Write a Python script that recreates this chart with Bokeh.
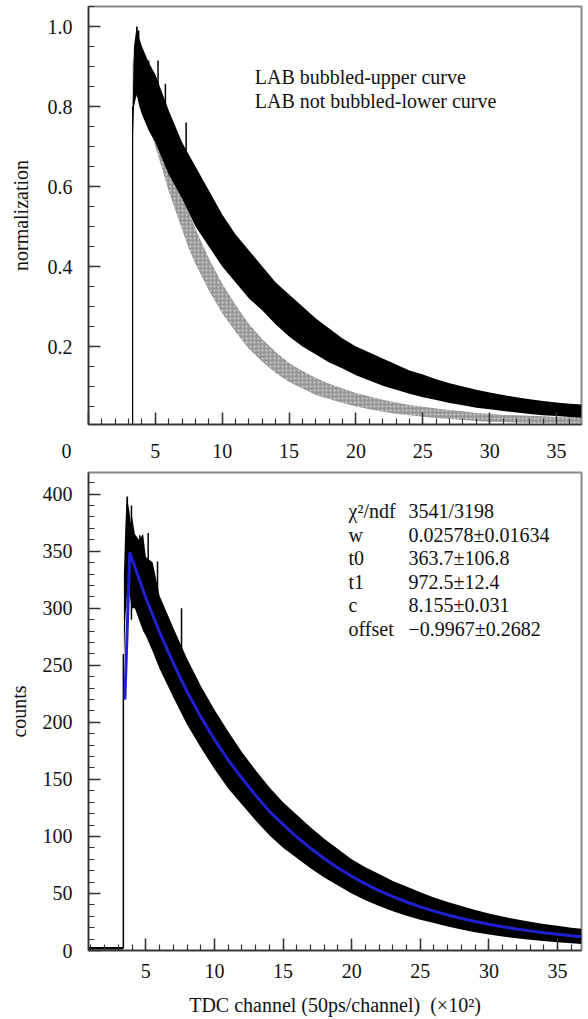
from bokeh.plotting import figure
from bokeh.models import Range1d, FixedTicker, Label, PrintfTickFormatter, CustomJSTickFormatter
from bokeh.layouts import column
from bokeh.embed import file_html
from bokeh.resources import INLINE

FONT = "Liberation Serif"

# ---------------- data: top panel (normalized) ----------------
top_xmajor = [0, 5, 10, 15, 20, 25, 30, 35]
top_xminor = list(range(1, 37))
top_ymajor = [0.2, 0.4, 0.6, 0.8, 1.0]
top_yminor = [0.05, 0.10, 0.15, 0.25, 0.30, 0.35, 0.45, 0.50, 0.55, 0.65, 0.70, 0.75,
              0.85, 0.90, 0.95, 1.05]

# LAB bubbled (upper curve) - band envelope
up_x = [3.3, 3.4, 3.6, 3.8, 4, 4.5, 5, 6, 7, 8, 9, 10, 11, 12, 13, 14, 15, 16, 17, 18, 19,
        20, 21, 22, 23, 24, 25, 26, 27, 28, 29, 30, 31, 32, 33, 34, 35, 36, 36.86]
up_lo = [0.70, 0.80, 0.83, 0.80, 0.78, 0.74, 0.71, 0.63, 0.57, 0.50, 0.45, 0.40, 0.36, 0.32,
         0.29, 0.255, 0.225, 0.20, 0.18, 0.16, 0.145, 0.128, 0.115, 0.102, 0.092, 0.082,
         0.073, 0.066, 0.059, 0.053, 0.047, 0.043, 0.039, 0.035, 0.031, 0.028, 0.026, 0.024, 0.022]
up_hi = [0.80, 0.95, 1.0, 0.97, 0.95, 0.91, 0.88, 0.79, 0.71, 0.65, 0.59, 0.53, 0.48, 0.44,
         0.40, 0.36, 0.33, 0.30, 0.27, 0.245, 0.22, 0.20, 0.185, 0.17, 0.155, 0.14, 0.13,
         0.118, 0.108, 0.10, 0.092, 0.085, 0.079, 0.073, 0.068, 0.064, 0.060, 0.057, 0.055]
up_spike_x = [3.62, 3.75, 4.5, 5.2, 5.75, 7.3]
up_spike_lo = [0.85, 0.85, 0.80, 0.78, 0.72, 0.62]
up_spike_hi = [1.0, 0.99, 0.915, 0.915, 0.857, 0.76]
top_rise_x = [3.3, 3.3]
top_rise_y = [0.005, 0.80]

# LAB not bubbled (lower curve)
lo_x = [3.3, 3.5, 3.7, 4, 4.5, 5, 5.5, 6, 6.5, 7, 7.5, 8, 9, 10, 11, 12, 13, 14, 15, 16, 17,
        18, 19, 20, 21, 22, 23, 24, 25, 26, 27, 28, 29, 30, 31, 32, 33, 34, 35, 36, 36.86]
lo_lo = [0.79, 0.82, 0.83, 0.81, 0.76, 0.70, 0.645, 0.588, 0.54, 0.492, 0.445, 0.406, 0.34,
         0.283, 0.236, 0.194, 0.162, 0.134, 0.111, 0.095, 0.079, 0.069, 0.059, 0.050, 0.043,
         0.037, 0.032, 0.028, 0.0245, 0.021, 0.019, 0.016, 0.014, 0.012, 0.011, 0.010, 0.009,
         0.0085, 0.008, 0.007, 0.007]
lo_hi = [0.91, 0.94, 0.95, 0.93, 0.88, 0.82, 0.755, 0.692, 0.64, 0.588, 0.535, 0.494, 0.42,
         0.357, 0.304, 0.256, 0.218, 0.186, 0.159, 0.139, 0.121, 0.107, 0.095, 0.084, 0.075,
         0.067, 0.060, 0.054, 0.0495, 0.045, 0.041, 0.038, 0.034, 0.032, 0.029, 0.028, 0.027,
         0.0255, 0.024, 0.023, 0.023]

# ---------------- data: bottom panel (counts) ----------------
bot_xmajor = [5, 10, 15, 20, 25, 30, 35]
bot_xminor = list(range(1, 37))
bot_ymajor = [0, 50, 100, 150, 200, 250, 300, 350, 400]
bot_yminor = [v for v in range(10, 420, 10) if v % 50 != 0]

bd_x = [3.4, 3.5, 3.6, 3.7, 3.8, 3.9, 4.0, 4.2, 4.5, 4.8, 5, 5.5, 6, 7, 8, 9, 10, 11, 12, 13,
        14, 15, 16, 17, 18, 19, 20, 21, 22, 23, 24, 25, 26, 27, 28, 29, 30, 31, 32, 33, 34,
        35, 36, 36.75]
bd_lo = [250, 290, 310, 320, 315, 305, 300, 300, 290, 280, 276, 262, 247, 222, 198, 178, 159,
         142, 128, 114, 101, 90, 81, 72, 64, 57, 50, 44, 39, 34.5, 30.5, 27, 24, 21, 18.5,
         16, 14, 12.3, 10.8, 9.5, 8.3, 7.3, 6.4, 5.7]
bd_hi = [330, 370, 398, 392, 385, 375, 380, 365, 360, 365, 345, 340, 311, 283, 256, 232, 211,
         192, 174, 158, 143, 130, 119, 108, 98, 89, 80, 73, 67, 61, 56, 51, 46.5, 42.5, 39,
         35.5, 32.5, 29.8, 27.3, 25.2, 23.3, 21.6, 20, 19]
bd_spike_x = [3.65, 3.95, 4.56, 5.17, 5.85, 7.6]
bd_spike_lo = [300, 290, 320, 300, 270, 225]
bd_spike_hi = [398, 390, 364, 366, 341, 300]
bot_pre_x = [0.82, 3.36]
bot_pre_y = [2, 2]
bot_rise_x = [3.36, 3.36]
bot_rise_y = [2, 260]

fit_x = [3.47, 3.83, 4, 5, 6, 7, 8, 9, 10, 11, 12, 13, 14, 15, 16, 17, 18, 19, 20, 21, 22, 23,
         24, 25, 26, 27, 28, 29, 30, 31, 32, 33, 34, 35, 36, 36.75]
fit_y = [220, 349, 343, 309, 279, 252, 227, 205, 185, 167, 151, 136, 122, 110.5, 99.5, 89.6,
         80.6, 72.4, 65, 58.4, 52.5, 47.2, 42.5, 38.3, 34.5, 31.1, 28.1, 25.4, 23.0, 20.8,
         18.9, 17.2, 15.6, 14.2, 12.9, 12.0]

legend_lines = ["LAB bubbled-upper curve", "LAB not bubbled-lower curve"]
stat_names = ["\u03c7\u00b2/ndf", "w", "t0", "t1", "c", "offset"]
stat_values = ["3541/3198", "0.02578\u00b10.01634", "363.7\u00b1106.8", "972.5\u00b112.4",
               "8.155\u00b10.031", "\u22120.9967\u00b10.2682"]


def style(p, xmaj, xmin, ymaj, ymin):
    p.xaxis.ticker = FixedTicker(ticks=xmaj, minor_ticks=xmin)
    p.yaxis.ticker = FixedTicker(ticks=ymaj, minor_ticks=ymin)
    for ax in list(p.xaxis) + list(p.yaxis):
        ax.major_tick_in = 12
        ax.major_tick_out = 0
        ax.minor_tick_in = 6
        ax.minor_tick_out = 0
        ax.major_tick_line_color = "#333333"
        ax.major_tick_line_width = 1.5
        ax.minor_tick_line_color = "#333333"
        ax.minor_tick_line_width = 1.2
        ax.axis_line_color = "#333333"
        ax.axis_line_width = 1.5
        ax.major_label_text_font = FONT
        ax.major_label_text_font_size = "20px"
        ax.major_label_text_color = "#111111"
        ax.axis_label_text_font = FONT
        ax.axis_label_text_font_size = "20px"
        ax.axis_label_text_font_style = "normal"
        ax.axis_label_text_color = "#111111"
    p.yaxis.major_label_standoff = 16
    p.xgrid.visible = False
    p.ygrid.visible = False
    p.outline_line_color = "#888888"
    p.outline_line_width = 2
    p.background_fill_color = "white"
    p.border_fill_color = "white"


# ---------------- top figure ----------------
p1 = figure(frame_width=493, frame_height=418, x_range=Range1d(0, 36.86),
            y_range=Range1d(0.005, 1.05), output_backend="svg", toolbar_location=None,
            min_border_left=88, min_border_right=2, min_border_top=6, min_border_bottom=46)
style(p1, top_xmajor, top_xminor, top_ymajor, top_yminor)
p1.xaxis.major_label_standoff = 15
# the "0" of the origin sits left of the frame corner, as in the original
p1.xaxis.formatter = CustomJSTickFormatter(
    code="return tick == 0 ? '0\u2003\u2003\u2009' : tick.toFixed(0);")
p1.yaxis.formatter = PrintfTickFormatter(format="%.1f")
p1.yaxis.axis_label = "normalization"
p1.yaxis.axis_label_standoff = 13

p1.varea(x=lo_x, y1=lo_lo, y2=lo_hi, fill_color="#8c8c8c", fill_alpha=0.9,
         hatch_pattern="dot", hatch_color="white", hatch_scale=4, hatch_alpha=0.6)
p1.varea(x=up_x, y1=up_lo, y2=up_hi, fill_color="black")
p1.segment(x0=up_spike_x, y0=up_spike_lo, x1=up_spike_x, y1=up_spike_hi,
           line_color="black", line_width=1.5)
p1.line(top_rise_x, top_rise_y, line_color="black", line_width=1.2)

for i, t in enumerate(legend_lines):
    p1.add_layout(Label(x=12.43, y=0.875 - 0.06 * i, text=t, text_font=FONT,
                        text_font_size="20px", text_baseline="middle", text_color="#111111"))

# ---------------- bottom figure ----------------
p2 = figure(frame_width=493, frame_height=478, x_range=Range1d(0.82, 36.75),
            y_range=Range1d(0, 419), output_backend="svg", toolbar_location=None,
            min_border_left=88, min_border_right=2, min_border_top=2, min_border_bottom=64)
style(p2, bot_xmajor, bot_xminor, bot_ymajor, bot_yminor)
p2.xaxis.major_label_standoff = 13
p2.yaxis.axis_label = "counts"
p2.yaxis.axis_label_standoff = 10
p2.xaxis.axis_label = "TDC channel (50ps/channel)\u00a0\u00a0(\u00d710\u00b2)"
p2.xaxis.axis_label_standoff = 13

p2.line(bot_pre_x, bot_pre_y, line_color="black", line_width=2.5)
p2.line(bot_rise_x, bot_rise_y, line_color="black", line_width=1.5)
p2.varea(x=bd_x, y1=bd_lo, y2=bd_hi, fill_color="black")
p2.segment(x0=bd_spike_x, y0=bd_spike_lo, x1=bd_spike_x, y1=bd_spike_hi,
           line_color="black", line_width=1.5)
p2.line(fit_x, fit_y, line_color="#2020d0", line_width=3)

for i, (n, v) in enumerate(zip(stat_names, stat_values)):
    yy = 385 - 20.6 * i
    p2.add_layout(Label(x=19.77, y=yy, text=n, text_font=FONT, text_font_size="20px",
                        text_baseline="middle", text_color="#111111"))
    p2.add_layout(Label(x=24.14, y=yy, text=v, text_font=FONT, text_font_size="20px",
                        text_baseline="middle", text_color="#111111"))

layout = column(p1, p2)
open("out.html", "w").write(file_html(layout, INLINE))
